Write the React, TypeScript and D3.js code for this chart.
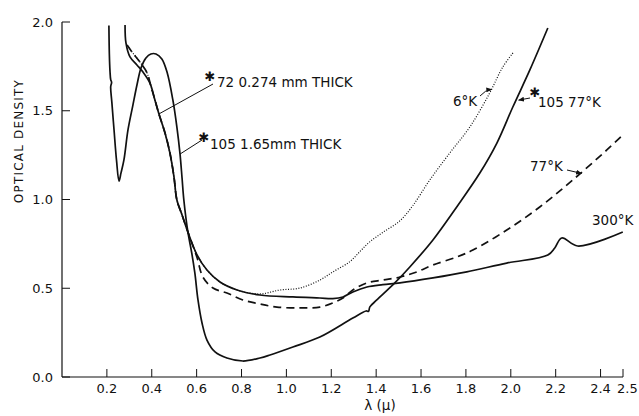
import React from "react";
import * as d3 from "d3";

// Optical density vs wavelength λ (μ)
const X_TICKS = [0.2, 0.4, 0.6, 0.8, 1.0, 1.2, 1.4, 1.6, 1.8, 2.0, 2.2, 2.4, 2.5];
const X_TICK_LABELS = ["0.2", "0.4", "0.6", "0.8", "1.0", "1.2", "1.4", "1.6", "1.8", "2.0", "2.2", "2.4", "2.5"];
const Y_TICKS = [0, 0.5, 1.0, 1.5, 2.0];
const Y_TICK_LABELS = ["0.0", "0.5", "1.0", "1.5", "2.0"];

// Sample #105, 1.65 mm thick, 77°K  [λ, OD]
const sample105: [number, number][] = [
  [0.209, 1.98], [0.211, 1.82], [0.214, 1.72], [0.217, 1.675], [0.221, 1.66], [0.217, 1.635],
  [0.222, 1.55], [0.232, 1.39], [0.243, 1.22], [0.254, 1.104], [0.263, 1.15], [0.276, 1.223],
  [0.294, 1.392], [0.316, 1.532], [0.334, 1.645], [0.352, 1.741], [0.374, 1.797], [0.396, 1.82],
  [0.419, 1.82], [0.445, 1.792], [0.468, 1.718], [0.494, 1.561], [0.512, 1.408], [0.526, 1.256],
  [0.535, 1.121], [0.543, 0.997], [0.561, 0.817], [0.578, 0.7], [0.592, 0.586], [0.606, 0.434],
  [0.624, 0.304], [0.646, 0.208], [0.682, 0.141], [0.735, 0.107], [0.806, 0.09], [0.882, 0.107],
  [0.927, 0.124], [1.029, 0.169], [1.149, 0.225], [1.296, 0.332], [1.355, 0.372], [1.366, 0.37],
  [1.372, 0.395], [1.403, 0.434], [1.483, 0.53], [1.55, 0.62], [1.653, 0.772], [1.759, 0.958],
  [1.862, 1.149], [1.938, 1.318], [2.009, 1.521], [2.085, 1.73], [2.165, 1.966],
];

// Sample #72, 0.274 mm thick, 300°K
const sample72_300K: [number, number][] = [
  [0.281, 1.983], [0.285, 1.882], [0.303, 1.803], [0.334, 1.758], [0.361, 1.718], [0.392, 1.656],
  [0.414, 1.561], [0.432, 1.482], [0.459, 1.375], [0.481, 1.262], [0.499, 1.127], [0.512, 0.997],
  [0.535, 0.913], [0.561, 0.817], [0.601, 0.69], [0.646, 0.603], [0.704, 0.535], [0.78, 0.49],
  [0.882, 0.462], [1.029, 0.451], [1.149, 0.445], [1.207, 0.442], [1.252, 0.451], [1.296, 0.479],
  [1.359, 0.507], [1.43, 0.52], [1.506, 0.53], [1.653, 0.558], [1.804, 0.592], [1.982, 0.642],
  [2.165, 0.687], [2.196, 0.727], [2.227, 0.783], [2.298, 0.738], [2.499, 0.817],
];

// Sample #72, 77°K
const sample72_77K: [number, number][] = [
  [0.29, 1.87], [0.312, 1.831], [0.347, 1.775], [0.379, 1.713], [0.396, 1.639], [0.414, 1.561],
  [0.432, 1.482], [0.459, 1.375], [0.481, 1.262], [0.499, 1.127], [0.512, 0.997], [0.535, 0.913],
  [0.561, 0.817], [0.601, 0.676], [0.628, 0.563], [0.673, 0.501], [0.735, 0.473], [0.806, 0.434],
  [0.882, 0.411], [0.958, 0.394], [1.06, 0.389], [1.149, 0.394], [1.207, 0.417], [1.252, 0.445],
  [1.296, 0.49], [1.359, 0.53], [1.43, 0.546], [1.506, 0.563], [1.581, 0.592], [1.653, 0.631],
  [1.759, 0.676], [1.831, 0.715], [1.982, 0.828], [2.129, 0.958], [2.276, 1.11], [2.428, 1.279],
  [2.499, 1.363],
];

// Sample #72, 6°K
const sample72_6K: [number, number][] = [
  [0.29, 1.87], [0.312, 1.831], [0.347, 1.775], [0.379, 1.713], [0.396, 1.639], [0.414, 1.561],
  [0.432, 1.482], [0.459, 1.375], [0.481, 1.262], [0.499, 1.127], [0.512, 0.997], [0.535, 0.913],
  [0.561, 0.817], [0.601, 0.69], [0.646, 0.603], [0.704, 0.535], [0.78, 0.49], [0.882, 0.468],
  [0.971, 0.49], [1.06, 0.501], [1.149, 0.546], [1.207, 0.592], [1.283, 0.65], [1.33, 0.71],
  [1.37, 0.76], [1.43, 0.815], [1.506, 0.88], [1.563, 0.965], [1.639, 1.11], [1.728, 1.262],
  [1.817, 1.408], [1.906, 1.6], [1.964, 1.746], [2.013, 1.831],
];

const W = 639;
const H = 416;

export default function App() {
  const x = d3.scaleLinear().domain([0, 2.5]).range([62, 623]);
  const y = d3.scaleLinear().domain([0, 2]).range([377, 22]);
  const line = d3
    .line<[number, number]>()
    .x((d) => x(d[0]))
    .y((d) => y(d[1]))
    .curve(d3.curveCatmullRom.alpha(0.5));

  const ink = "#111";
  const font = "'DejaVu Sans', sans-serif";

  // leader tips anchored on the curves
  const tip72 = [x(0.432), y(1.482)];
  const tip105 = [x(0.526), y(1.256)];
  const tip6K = [x(1.915), y(1.62)];
  const tip105_77 = [x(2.035), y(1.56)];
  const tip77K = [x(2.315), y(1.147)];

  const Star = ({ cx, cy }: { cx: number; cy: number }) => (
    <text x={cx} y={cy} dy="0.35em" fontSize={13} fontWeight="bold" textAnchor="middle" fill={ink}>
      ✱
    </text>
  );

  return (
    <svg
      width={W}
      height={H}
      style={{ position: "absolute", left: 0, top: 0, background: "#fff" }}
      fontFamily={font}
    >
      <defs>
        <marker id="arr" viewBox="0 0 10 10" refX="9" refY="5" markerWidth="6" markerHeight="6" orient="auto-start-reverse">
          <path d="M0,1 L10,5 L0,9 z" fill={ink} />
        </marker>
      </defs>

      {/* axes */}
      <line x1={x(0)} x2={x(2.5)} y1={y(0)} y2={y(0)} stroke={ink} strokeWidth={1.2} />
      <line x1={x(0)} x2={x(0)} y1={y(0)} y2={y(2)} stroke={ink} strokeWidth={1.2} />
      {X_TICKS.map((t, i) => (
        <g key={"xt" + i}>
          <line x1={x(t)} x2={x(t)} y1={y(0)} y2={y(0) - 8} stroke={ink} strokeWidth={1} />
          <text
            x={i === X_TICKS.length - 1 ? x(t) - 6 : x(t)}
            y={393}
            fontSize={13}
            textAnchor={i === X_TICKS.length - 1 ? "start" : "middle"}
            fill={ink}
          >
            {X_TICK_LABELS[i]}
          </text>
        </g>
      ))}
      {Y_TICKS.map((t, i) => (
        <g key={"yt" + i}>
          <line x1={x(0)} x2={x(0) + 8} y1={y(t)} y2={y(t)} stroke={ink} strokeWidth={1} />
          <text x={53} y={y(t)} dy="0.36em" fontSize={13} textAnchor="end" fill={ink}>
            {Y_TICK_LABELS[i]}
          </text>
        </g>
      ))}
      <text x={380} y={410} fontSize={13.5} textAnchor="middle" fill={ink}>
        λ (μ)
      </text>
      <text
        transform="translate(23,141) rotate(-90)"
        fontSize={12}
        letterSpacing={1.2}
        textAnchor="middle"
        fill={ink}
      >
        OPTICAL DENSITY
      </text>

      {/* curves */}
      <path d={line(sample105) ?? ""} fill="none" stroke={ink} strokeWidth={1.7} />
      <path d={line(sample72_300K) ?? ""} fill="none" stroke={ink} strokeWidth={1.7} />
      <path d={line(sample72_77K) ?? ""} fill="none" stroke={ink} strokeWidth={1.7} strokeDasharray="8 5" />
      <path d={line(sample72_6K) ?? ""} fill="none" stroke={ink} strokeWidth={1.2} strokeDasharray="1 1.6" />

      {/* annotations */}
      <line x1={213} y1={84} x2={tip72[0]} y2={tip72[1]} stroke={ink} strokeWidth={1} />
      <Star cx={210} cy={76} />
      <text x={217} y={87} fontSize={13.5} fill={ink}>72 0.274 mm THICK</text>

      <line x1={202} y1={140} x2={tip105[0]} y2={tip105[1]} stroke={ink} strokeWidth={1} />
      <Star cx={204} cy={137} />
      <text x={210} y={149} fontSize={13.5} fill={ink}>105 1.65mm THICK</text>

      <text x={453} y={106} fontSize={13.5} fill={ink}>6°K</text>
      <path
        d={`M480,96 Q485,90 ${tip6K[0]},${tip6K[1]}`}
        fill="none"
        stroke={ink}
        strokeWidth={1}
        markerEnd="url(#arr)"
      />

      <Star cx={535} cy={92} />
      <text x={538} y={107} fontSize={13.5} fill={ink}>105 77°K</text>
      <line x1={530} y1={98} x2={tip105_77[0]} y2={tip105_77[1]} stroke={ink} strokeWidth={1} markerEnd="url(#arr)" />

      <text x={530} y={171} fontSize={13.5} fill={ink}>77°K</text>
      <line x1={567} y1={170} x2={tip77K[0]} y2={tip77K[1]} stroke={ink} strokeWidth={1} markerEnd="url(#arr)" />

      <text x={592} y={225} fontSize={13.5} fill={ink}>300°K</text>
    </svg>
  );
}
